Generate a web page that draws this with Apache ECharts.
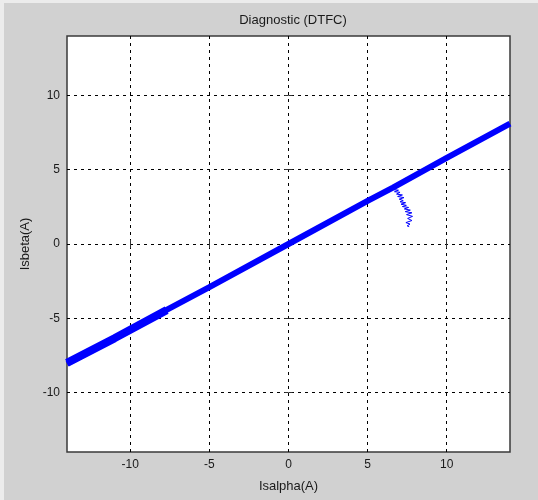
<!DOCTYPE html>
<html>
<head>
<meta charset="utf-8">
<script src="https://cdn.jsdelivr.net/npm/echarts@6/dist/echarts.min.js"></script>
<style>
  html, body { margin: 0; padding: 0; background: #ececec; }
  #chart { width: 538px; height: 500px; }
</style>
</head>
<body>
<div id="chart"></div>
<script>
// Stator current trajectory in the alpha-beta plane
const tickValues = [-10, -5, 0, 5, 10];

// main trajectory band
const isAlpha = [-14, -10, -8, -5, 0, 5, 6.6, 10, 14];
const isBeta  = [-8.05, -5.8, -4.6, -2.9, 0, 2.9, 3.8, 5.8, 8.1];

// wider start-up part of the band
const startAlpha = [-14, -11, -7.7];
const startBeta  = [-8.0, -6.35, -4.45];

// fault excursion near Isalpha ≈ 7 A
const faultAlpha = [6.55, 6.75, 6.62, 6.95, 6.70, 7.05, 6.83, 7.20, 6.90, 7.30, 7.00, 7.25, 7.05, 7.40, 7.11, 7.45, 7.20, 7.59, 7.32, 7.70, 7.38, 7.80, 7.46, 7.84, 7.53, 7.80, 7.42, 7.68, 7.50, 7.63];
const faultBeta  = [3.85, 3.78, 3.66, 3.62, 3.52, 3.48, 3.36, 3.30, 3.20, 3.12, 3.02, 2.92, 2.84, 2.78, 2.68, 2.60, 2.52, 2.46, 2.36, 2.28, 2.18, 2.10, 1.98, 1.86, 1.72, 1.58, 1.44, 1.34, 1.22, 1.17];

const mainData = isAlpha.map((a, i) => [a, isBeta[i]]);
const startData = startAlpha.map((a, i) => [a, startBeta[i]]);
const faultData = faultAlpha.map((a, i) => [a, faultBeta[i]]);

const fontFamily = 'Liberation Sans, Arial, sans-serif';
const labelFont = { fontFamily: fontFamily, fontSize: 12, color: '#1a1a1a' };

function makeAxis(extra) {
  return Object.assign({
    type: 'value',
    min: -14,
    max: 14,
    axisLine: { show: false },
    axisTick: { show: true, inside: true, length: 4, customValues: tickValues, lineStyle: { color: '#333' } },
    axisLabel: Object.assign({ customValues: tickValues, margin: 7 }, labelFont),
    splitLine: { show: true, lineStyle: { color: '#000', type: [3, 4], width: 1 } }
  }, extra);
}

const chart = echarts.init(document.getElementById('chart'), null, { renderer: 'canvas' });
chart.setOption({
  backgroundColor: '#ececec',
  animation: false,
  graphic: [{
    type: 'rect', z: -10, silent: true,
    shape: { x: 4, y: 3, width: 534, height: 497 },
    style: { fill: '#d1d1d1' }
  }],
  title: {
    text: 'Diagnostic (DTFC)',
    left: 288, top: 9, textAlign: 'center',
    textStyle: { fontFamily: fontFamily, fontSize: 13, fontWeight: 'normal', color: '#1a1a1a' }
  },
  grid: {
    left: 67, right: 28, top: 36, bottom: 48,
    show: true, backgroundColor: '#ffffff', borderColor: '#3a3a3a', borderWidth: 1.5
  },
  xAxis: [
    makeAxis({
      position: 'bottom',
      name: 'Isalpha(A)', nameLocation: 'middle', nameGap: 28,
      nameTextStyle: { fontFamily: fontFamily, fontSize: 13, color: '#1a1a1a' }
    }),
    makeAxis({ position: 'top', axisLabel: { show: false }, splitLine: { show: false } })
  ],
  yAxis: [
    makeAxis({
      position: 'left',
      name: 'Isbeta(A)', nameLocation: 'middle', nameGap: 28,
      nameTextStyle: { fontFamily: fontFamily, fontSize: 13, color: '#1a1a1a' }
    }),
    makeAxis({ position: 'right', axisLabel: { show: false }, splitLine: { show: false } })
  ],
  series: [
    {
      type: 'line', data: mainData, showSymbol: false, clip: true,
      lineStyle: { color: '#0000ff', width: 6 }, z: 5
    },
    {
      type: 'line', data: startData, showSymbol: false, clip: true,
      lineStyle: { color: '#0000ff', width: 8 }, z: 5
    },
    {
      type: 'line', data: faultData, showSymbol: false, clip: true,
      lineStyle: { color: '#0000ff', width: 1 }, z: 6
    }
  ]
});
</script>
</body>
</html>
